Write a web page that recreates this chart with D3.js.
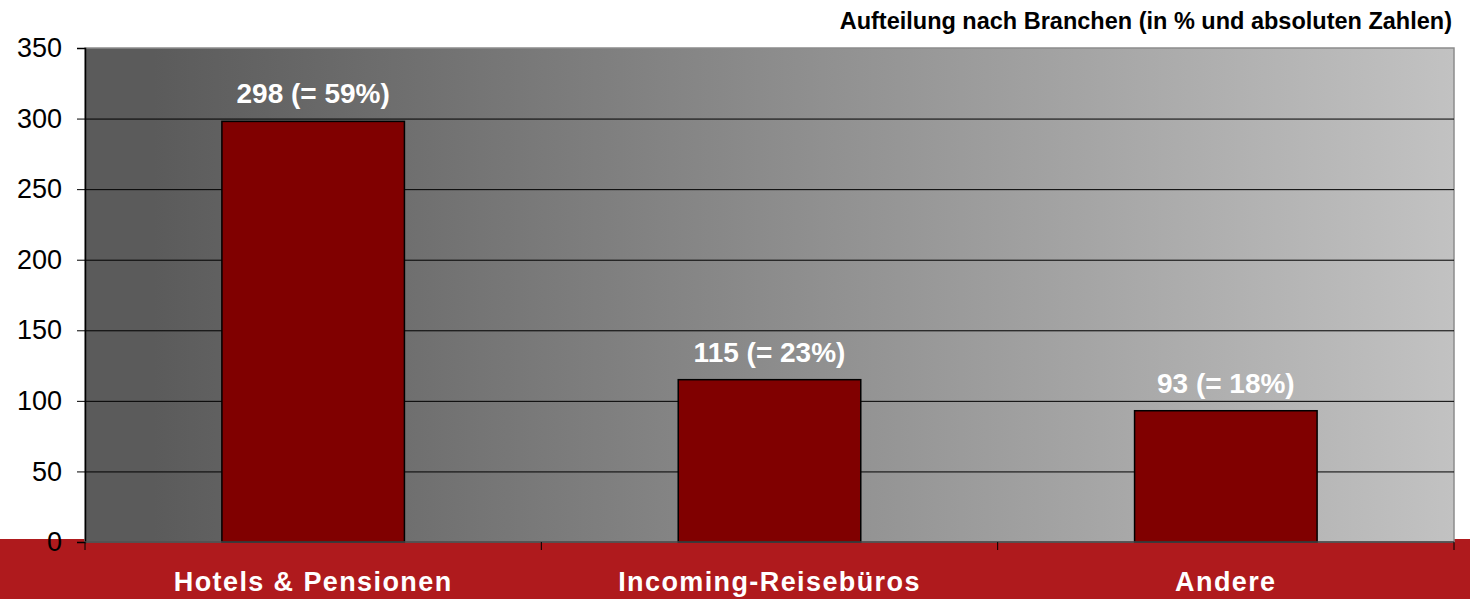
<!DOCTYPE html>
<html>
  <head>
    <meta charset="utf-8">
    <style>
      body { margin: 0; background: #fff; font-family: "Liberation Sans", Arial, sans-serif; }
      svg { display: block; }
    </style>
  </head>
  <body>
    <script src="https://d3js.org/d3.v7.min.js"></script>
    <script>
      // chart data
      var categories = ["Hotels & Pensionen", "Incoming-Reisebüros", "Andere"];
      var values = [298, 115, 93];
      var labels = ["298 (= 59%)", "115 (= 23%)", "93 (= 18%)"];
      var yTicks = [0, 50, 100, 150, 200, 250, 300, 350];
      var title = "Aufteilung nach Branchen (in % und absoluten Zahlen)";

      var width = 1470, height = 599;
      var plot = {left: 85, right: 1454, top: 48, bottom: 542};

      var svg = d3.select("body").append("svg")
          .attr("width", width)
          .attr("height", height);

      var defs = svg.append("defs");
      var grad = defs.append("linearGradient")
          .attr("id", "bg")
          .attr("x1", "0%").attr("x2", "100%");
      grad.append("stop").attr("offset", "5%").attr("stop-color", "#5b5b5b");
      grad.append("stop").attr("offset", "100%").attr("stop-color", "#c2c2c2");

      var x = d3.scaleBand()
          .domain(categories)
          .range([plot.left, plot.right])
          .paddingInner(0.6)
          .paddingOuter(0.3);

      var y = d3.scaleLinear()
          .domain([0, 350])
          .range([plot.bottom, plot.top]);

      // red footer band
      svg.append("rect")
          .attr("x", 0).attr("y", 539)
          .attr("width", width).attr("height", height - 539)
          .attr("fill", "#af1a1d");

      // plot background
      svg.append("rect")
          .attr("x", plot.left).attr("y", plot.top)
          .attr("width", plot.right - plot.left)
          .attr("height", plot.bottom - plot.top)
          .attr("fill", "url(#bg)")
          .attr("stroke", "#8c8c8c")
          .attr("stroke-width", 1.5);

      // gridlines
      svg.append("g").selectAll("line")
          .data(yTicks.filter(function(d) { return d > 0 && d < 350; }))
        .enter().append("line")
          .attr("x1", plot.left).attr("x2", plot.right)
          .attr("y1", function(d) { return y(d) + 0.5; })
          .attr("y2", function(d) { return y(d) + 0.5; })
          .attr("stroke", "#000")
          .attr("stroke-width", 1);

      // bars
      svg.append("g").selectAll("rect")
          .data(values)
        .enter().append("rect")
          .attr("x", function(d, i) { return x(categories[i]); })
          .attr("y", function(d) { return y(d); })
          .attr("width", x.bandwidth())
          .attr("height", function(d) { return y(0) - y(d); })
          .attr("fill", "#800000")
          .attr("stroke", "#000")
          .attr("stroke-width", 1.5);

      // value labels
      svg.append("g").selectAll("text")
          .data(values)
        .enter().append("text")
          .attr("x", function(d, i) { return x(categories[i]) + x.bandwidth() / 2; })
          .attr("y", function(d) { return y(d) - 18; })
          .attr("text-anchor", "middle")
          .attr("fill", "#fff")
          .attr("font-weight", "bold")
          .attr("font-size", "28px")
          .text(function(d, i) { return labels[i]; });

      // y axis
      var yAxis = svg.append("g")
          .attr("transform", "translate(" + plot.left + ",0)")
          .call(d3.axisLeft(y).tickValues(yTicks).tickSize(8).tickPadding(15));
      yAxis.select(".domain").attr("stroke", "#000").attr("stroke-width", 1.5);
      yAxis.selectAll("text")
          .attr("font-size", "27px")
          .attr("font-family", "Liberation Sans, Arial, sans-serif")
          .attr("fill", "#000");

      // x axis
      var xAxis = svg.append("g")
          .attr("transform", "translate(0," + plot.bottom + ")");
      xAxis.append("line")
          .attr("x1", plot.left).attr("x2", plot.right)
          .attr("stroke", "#444").attr("stroke-width", 1.5);
      var step = (plot.right - plot.left) / categories.length;
      xAxis.selectAll(".tk")
          .data(d3.range(categories.length + 1))
        .enter().append("line")
          .attr("class", "tk")
          .attr("x1", function(d) { return plot.left + d * step; })
          .attr("x2", function(d) { return plot.left + d * step; })
          .attr("y1", 0).attr("y2", 8)
          .attr("stroke", "#000");
      xAxis.selectAll("text")
          .data(categories)
        .enter().append("text")
          .attr("x", function(d) { return x(d) + x.bandwidth() / 2; })
          .attr("y", 49)
          .attr("text-anchor", "middle")
          .attr("fill", "#fff")
          .attr("font-weight", "bold")
          .attr("font-size", "27px")
          .attr("letter-spacing", "1.4px")
          .text(function(d) { return d; });

      // title
      svg.append("text")
          .attr("x", 1452).attr("y", 29)
          .attr("text-anchor", "end")
          .attr("font-weight", "bold")
          .attr("font-size", "23.5px")
          .attr("fill", "#000")
          .text(title);
    </script>
  </body>
</html>
